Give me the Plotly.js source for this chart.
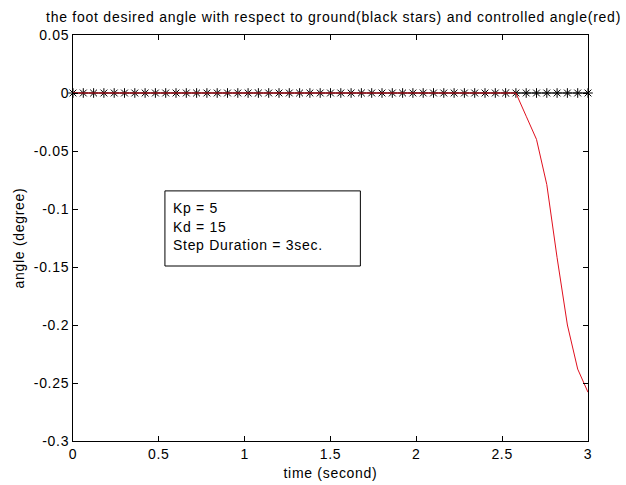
<!DOCTYPE html>
<html>
<head>
<meta charset="utf-8">
<script src="https://cdn.plot.ly/plotly-3.0.1.min.js"></script>
<style>
html,body{margin:0;padding:0;background:#fff;}
#chart{width:626px;height:485px;}
#chart text{letter-spacing:0.7px;}
#chart .gtitle{letter-spacing:0.75px;}
</style>
</head>
<body>
<div id="chart"></div>
<script>
// Desired angle (black stars): step 0.06 s from 0 to 3 s, all zero
const desiredTime = [0,0.06,0.12,0.18,0.24,0.30,0.36,0.42,0.48,0.54,0.60,0.66,0.72,0.78,0.84,0.90,0.96,1.02,1.08,1.14,1.20,1.26,1.32,1.38,1.44,1.50,1.56,1.62,1.68,1.74,1.80,1.86,1.92,1.98,2.04,2.10,2.16,2.22,2.28,2.34,2.40,2.46,2.52,2.58,2.64,2.70,2.76,2.82,2.88,2.94,3.00];
const desiredAngle = [0,0,0,0,0,0,0,0,0,0,0,0,0,0,0,0,0,0,0,0,0,0,0,0,0,0,0,0,0,0,0,0,0,0,0,0,0,0,0,0,0,0,0,0,0,0,0,0,0,0,0];
// Controlled angle (red)
const controlTime = [0,2.58,2.64,2.70,2.76,2.82,2.88,2.94,3.00];
const controlAngle = [0,0,-0.02,-0.04,-0.079,-0.142,-0.200,-0.238,-0.258];
const xTicks = [0,0.5,1,1.5,2,2.5,3];
const xTickText = ['0','0.5','1','1.5','2','2.5','3'];
const yTicks = [0.05,0,-0.05,-0.1,-0.15,-0.2,-0.25,-0.3];
const yTickText = ['0.05','0','-0.05','-0.1','-0.15','-0.2','-0.25','-0.3'];
const boxLines = ['Kp = 5','Kd = 15','Step Duration = 3sec.'];

const FONT = 'Liberation Sans, Arial, Helvetica, sans-serif';
const FS = 14;

const traces = [
  {x: desiredTime, y: desiredAngle, mode: 'lines+markers', type: 'scatter',
   line: {color: '#000', width: 1},
   marker: {symbol: 'asterisk-open', size: 8, color: '#000', line: {color: '#000', width: 1}},
   hoverinfo: 'skip', cliponaxis: false},
  {x: controlTime, y: controlAngle, mode: 'lines', type: 'scatter',
   line: {color: '#e0101e', width: 1}, hoverinfo: 'skip'}
];

const boxY = [0.5746, 0.5278, 0.4828];
const annotations = boxLines.map((t, i) => ({
  text: t, xref: 'paper', yref: 'paper', x: 0.190, y: boxY[i],
  xanchor: 'left', yanchor: 'middle', align: 'left', showarrow: false,
  font: {family: FONT, size: FS, color: '#000'}
}));

const layout = {
  width: 626, height: 485,
  margin: {l: 73, r: 38, t: 35, b: 44, pad: 0},
  paper_bgcolor: '#fff', plot_bgcolor: '#fff',
  showlegend: false,
  font: {family: FONT, size: FS, color: '#000'},
  title: {text: 'the foot desired angle with respect to ground(black stars) and controlled angle(red)',
          font: {family: FONT, size: FS, color: '#000'},
          x: 0.0735, xanchor: 'left', y: 0.965, yanchor: 'middle'},
  xaxis: {range: [0, 3], tickvals: xTicks, ticktext: xTickText,
          ticks: 'inside', ticklen: 5, tickcolor: '#000', tickwidth: 1,
          showline: true, linecolor: '#000', linewidth: 1, mirror: 'ticks',
          showgrid: false, zeroline: false,
          tickfont: {family: FONT, size: FS, color: '#000'},
          title: {text: 'time (second)', font: {family: FONT, size: FS, color: '#000'}, standoff: 7}},
  yaxis: {range: [-0.3, 0.05], tickvals: yTicks, ticktext: yTickText,
          ticks: 'inside', ticklen: 5, tickcolor: '#000', tickwidth: 1,
          showline: true, linecolor: '#000', linewidth: 1, mirror: 'ticks',
          showgrid: false, zeroline: false,
          tickfont: {family: FONT, size: FS, color: '#000'},
          title: {text: 'angle (degree)', font: {family: FONT, size: FS, color: '#000'}, standoff: 9}},
  shapes: [{type: 'rect', xref: 'paper', yref: 'paper', x0: 0.1785, x1: 0.558, y0: 0.431, y1: 0.616,
            line: {color: '#000', width: 1}, fillcolor: 'rgba(0,0,0,0)'}],
  annotations: annotations
};

Plotly.newPlot('chart', traces, layout, {staticPlot: true, displayModeBar: false});
</script>
</body>
</html>
